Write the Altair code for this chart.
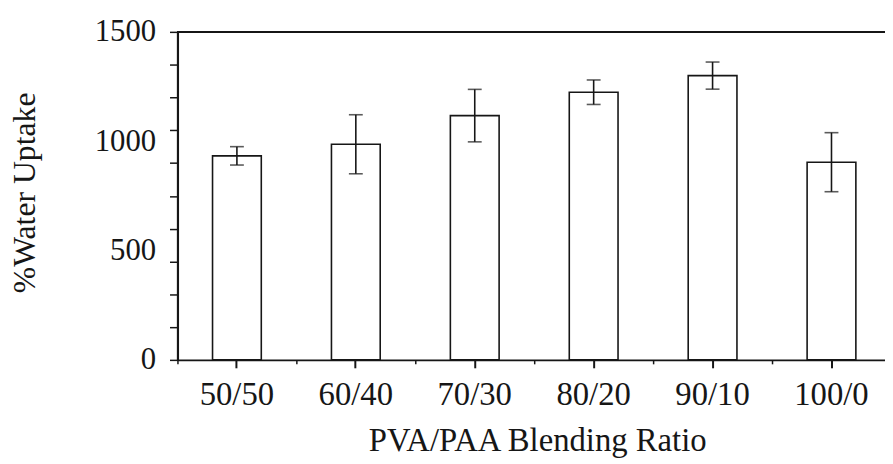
import altair as alt
import pandas as pd

ratios = ["50/50", "60/40", "70/30", "80/20", "90/10", "100/0"]
uptake = [933, 986, 1117, 1224, 1300, 904]
error = [42, 135, 120, 56, 62, 135]

y_tick_values = list(range(0, 1501, 150))
y_label_values = [0, 500, 1000, 1500]
x_minor_values = [0, 2, 4, 6, 8, 10, 12]

df = pd.DataFrame({"ratio": ratios, "uptake": uptake, "err": error})
df["lo"] = df["uptake"] - df["err"]
df["hi"] = df["uptake"] + df["err"]

FONT = "Liberation Serif"
INK = "#161616"


def xband():
    return alt.Scale(domain=ratios, range=[0, 720], paddingInner=0.59, paddingOuter=0.295)


def yscale():
    return alt.Scale(domain=[0, 1500], nice=False, zero=True)


bars = alt.Chart(df).mark_bar(fill="white", stroke=INK, strokeWidth=1.6).encode(
    x=alt.X("ratio:N", sort=ratios, scale=xband(),
            axis=alt.Axis(title="PVA/PAA Blending Ratio", labelAngle=0, tickSize=8,
                          tickWidth=2, labelPadding=11, domainWidth=1.6,
                          domainColor=INK, tickColor=INK,
                          labelFont=FONT, labelFontSize=33, labelColor=INK,
                          titleFontSize=33, titleFont=FONT, titleFontWeight="normal",
                          titleColor=INK, titleBaseline="alphabetic", titleY=91,
                          titleX=363, orient="bottom", grid=False)),
    y=alt.Y("uptake:Q", scale=yscale(),
            axis=alt.Axis(values=y_tick_values, labels=False, title=None, tickSize=8,
                          tickWidth=1.5, domainWidth=2.2, domainColor=INK,
                          tickColor=INK, orient="left", grid=False)),
)

rules = alt.Chart(df).mark_rule(color=INK, strokeWidth=1.6).encode(
    x=alt.X("ratio:N", sort=ratios, scale=xband(), axis=None),
    y=alt.Y("lo:Q", scale=yscale(), axis=None),
    y2="hi:Q",
)

caps_lo = alt.Chart(df).mark_tick(color=INK, size=14, thickness=1.6).encode(
    x=alt.X("ratio:N", sort=ratios, scale=xband(), axis=None),
    y=alt.Y("lo:Q", scale=yscale(), axis=None),
)
caps_hi = alt.Chart(df).mark_tick(color=INK, size=14, thickness=1.6).encode(
    x=alt.X("ratio:N", sort=ratios, scale=xband(), axis=None),
    y=alt.Y("hi:Q", scale=yscale(), axis=None),
)

top_line = alt.Chart(df).mark_rule(color=INK, strokeWidth=1.6).encode(
    x=alt.value(0), x2=alt.value(720), y=alt.value(0)
)

extra = alt.Chart(df).transform_window(
    idx="row_number()"
).transform_calculate(
    pos="2 * datum.idx - 1"
).mark_point(opacity=0).encode(
    x=alt.X("pos:Q", scale=alt.Scale(domain=[0, 12], range=[0, 720], nice=False, zero=False),
            axis=alt.Axis(values=x_minor_values, labels=False, title=None, domain=False,
                          tickSize=4, tickWidth=1.5, tickColor=INK, orient="bottom",
                          grid=False)),
    y=alt.Y("uptake:Q", scale=yscale(),
            axis=alt.Axis(values=y_label_values, ticks=False, tickSize=0, domain=False,
                          labelPadding=22, orient="left", format="d",
                          labelFont=FONT, labelFontSize=31, labelColor=INK,
                          title="%Water Uptake", grid=False,
                          titleFontSize=32, titleFont=FONT, titleFontWeight="normal",
                          titleColor=INK, titleX=-154, titleY=162, titleAngle=-90,
                          titleAlign="center", titleBaseline="middle")),
)

chart = alt.layer(bars, rules, caps_lo, caps_hi, top_line, extra).resolve_scale(
    x="independent", y="independent"
).properties(
    width=714,
    height=331,
    autosize=alt.AutoSizeParams(type="none"),
    padding={"left": 171, "top": 22, "right": 0, "bottom": 103},
).configure_view(stroke=None).configure(background="white")

chart.save("out.html", embed_options={"renderer": "svg", "actions": False})
